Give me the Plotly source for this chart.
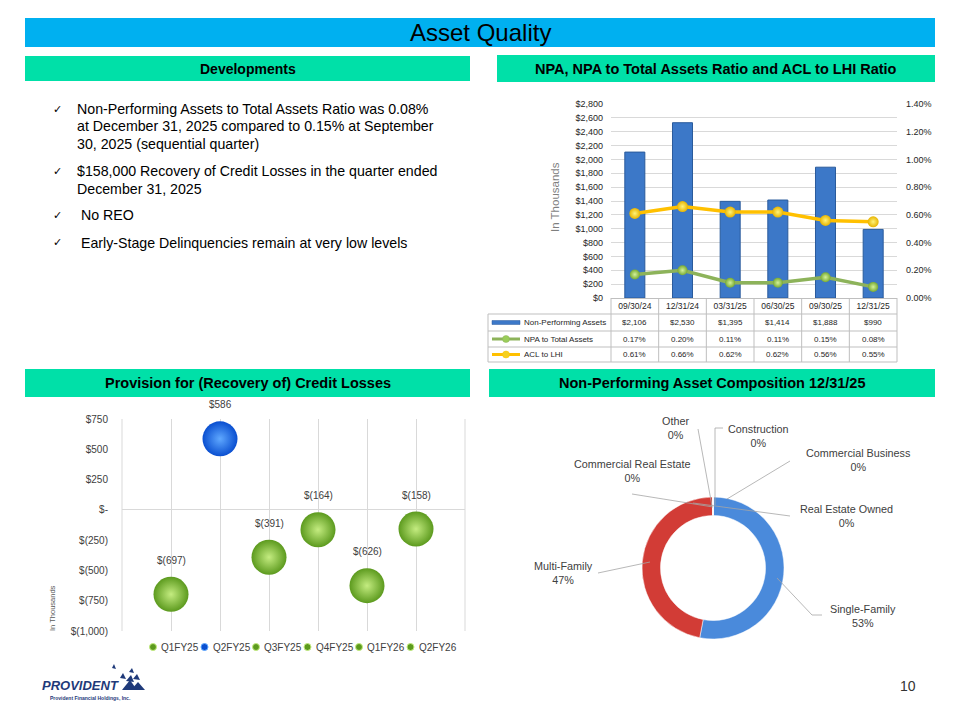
import plotly.graph_objects as go

W, H = 960, 720

# ---------------- data ----------------
dates = ["09/30/24", "12/31/24", "03/31/25", "06/30/25", "09/30/25", "12/31/25"]
npa = [2106, 2530, 1395, 1414, 1888, 990]
npa_ratio = [0.17, 0.20, 0.11, 0.11, 0.15, 0.08]
acl_ratio = [0.61, 0.66, 0.62, 0.62, 0.56, 0.55]
bar_ticks = list(range(0, 2801, 200))
ratio_ticks = [0.0, 0.2, 0.4, 0.6, 0.8, 1.0, 1.2, 1.4]

quarters = ["Q1FY25", "Q2FY25", "Q3FY25", "Q4FY25", "Q1FY26", "Q2FY26"]
provision = [-697, 586, -391, -164, -626, -158]
bubble_ticks = [-1000, -750, -500, -250, 0, 250, 500, 750]

comp_labels = ["Single-Family", "Multi-Family", "Commercial Real Estate", "Other",
               "Construction", "Commercial Business", "Real Estate Owned"]
comp_values = [53, 47, 0, 0, 0, 0, 0]

bullets = [
    ["Non-Performing Assets to Total Assets Ratio was 0.08%",
     "at December 31, 2025 compared to 0.15% at September",
     "30, 2025 (sequential quarter)"],
    ["$158,000 Recovery of Credit Losses in the quarter ended",
     "December 31, 2025"],
    [" No REO"],
    [" Early-Stage Delinquencies remain at very low levels"],
]

# ---------------- helpers ----------------
def px(x):
    return x / W

def py(y):
    return 1 - y / H

def acct(v):
    if v == 0:
        return "$-"
    if v < 0:
        return "$({:,})".format(abs(v))
    return "${:,}".format(v)

FONT = "Liberation Sans, Arial, sans-serif"
MINT = "#00E0A8"
BLUE_BAR = "#3C78C8"
GREEN = "#8DB35A"
GOLD = "#FFC000"
POS_COL, POS_CTR = "#0A4FD0", "#5FA8FF"
NEG_COL, NEG_CTR = "#5C9A1E", "#C4EC80"

fig = go.Figure()

# ---------------- bar + line chart ----------------
fig.add_trace(go.Bar(
    x=dates, y=npa, name="Non-Performing Assets",
    marker=dict(color=BLUE_BAR, line=dict(color="#2A5B9C", width=1)),
    xaxis="x", yaxis="y", showlegend=False, width=0.42))
fig.add_trace(go.Scatter(
    x=dates, y=npa_ratio, name="NPA to Total Assets", mode="lines+markers",
    line=dict(color=GREEN, width=3.5),
    marker=dict(size=10, color="#78AA34", gradient=dict(type="radial", color="#D4F29A")),
    xaxis="x", yaxis="y2", showlegend=False))
fig.add_trace(go.Scatter(
    x=dates, y=acl_ratio, name="ACL to LHI", mode="lines+markers",
    line=dict(color=GOLD, width=3.5),
    marker=dict(size=11, color="#E8B400", gradient=dict(type="radial", color="#FFF37A")),
    xaxis="x", yaxis="y2", showlegend=False))

# ---------------- bubble chart ----------------
for i, (q, v) in enumerate(zip(quarters, provision)):
    pos = v > 0
    col = POS_COL if pos else NEG_COL
    ctr = POS_CTR if pos else NEG_CTR
    fig.add_trace(go.Scatter(
        x=[i + 1], y=[v], mode="markers", name=q,
        marker=dict(size=35, color=col, gradient=dict(type="radial", color=ctr), line=dict(width=0)),
        xaxis="x2", yaxis="y3", showlegend=False))

# ---------------- donut ----------------
fig.add_trace(go.Pie(
    labels=comp_labels, values=comp_values, hole=0.74, sort=False,
    direction="clockwise", rotation=0, textinfo="none",
    marker=dict(colors=["#4A8ADB", "#D23C36", "#9BBB59", "#8064A2", "#4BACC6", "#F79646", "#7F7F7F"],
                line=dict(color="#ffffff", width=0.5)),
    domain=dict(x=[px(641), px(785)], y=[py(639), py(497)]),
    showlegend=False))

shapes = []
ann = []

# ---------------- header bars ----------------
def header(x0, y0, x1, y1, color, text, size, bold=True):
    shapes.append(dict(type="rect", xref="paper", yref="paper", x0=px(x0), x1=px(x1),
                       y0=py(y1), y1=py(y0), fillcolor=color, line=dict(width=0), layer="below"))
    t = "<b>%s</b>" % text if bold else text
    ann.append(dict(xref="paper", yref="paper", x=px((x0 + x1) / 2), y=py((y0 + y1) / 2),
                    text=t, showarrow=False, font=dict(family=FONT, size=size, color="#000000"),
                    xanchor="center", yanchor="middle"))

header(25, 18, 935, 47, "#00B0F0", "Asset Quality", 24, bold=False)
header(25, 56, 470, 81, MINT, "Developments", 14)
header(497, 55, 935, 82, MINT, "NPA, NPA to Total Assets Ratio and ACL to LHI Ratio", 14.5)
header(25, 369, 470, 397, MINT, "Provision for (Recovery of) Credit Losses", 14.5)
header(489, 369, 935, 397, MINT, "Non-Performing Asset Composition 12/31/25", 14.5)

# ---------------- bullets ----------------
y = 109
for b in bullets:
    ann.append(dict(xref="paper", yref="paper", x=px(51), y=py(y), text="✓", showarrow=False,
                    xanchor="left", yanchor="middle",
                    font=dict(family="DejaVu Sans", size=11, color="#000000")))
    for line in b:
        ann.append(dict(xref="paper", yref="paper", x=px(75), y=py(y), text=line, showarrow=False,
                        xanchor="left", yanchor="middle",
                        font=dict(family=FONT, size=14.2, color="#000000")))
        y += 17.5
    y += 9.5

# ---------------- bar chart decorations ----------------
bx0, bx1 = 611, 897
by_top, by_bot = 104, 298
ann.append(dict(xref="paper", yref="paper", x=px(555), y=py(197), text="In Thousands",
                xanchor="center", yanchor="middle",
                textangle=-90, showarrow=False, font=dict(family=FONT, size=11.5, color="#7F7F7F")))

# data table
GRID = "#BFBFBF"
row_lines = [314, 331, 347, 362]
n = len(dates)
bounds = [bx0 + k * (bx1 - bx0) / n for k in range(n + 1)]
for yl in row_lines:
    shapes.append(dict(type="line", xref="paper", yref="paper", x0=px(488), x1=px(bx1),
                       y0=py(yl), y1=py(yl), line=dict(color=GRID, width=1)))
shapes.append(dict(type="line", xref="paper", yref="paper", x0=px(488), x1=px(488),
                   y0=py(row_lines[0]), y1=py(row_lines[-1]), line=dict(color=GRID, width=1)))
for bx in bounds:
    shapes.append(dict(type="line", xref="paper", yref="paper", x0=px(bx), x1=px(bx),
                       y0=py(by_bot), y1=py(row_lines[-1]), line=dict(color=GRID, width=1)))

row_centers = [322.5, 339, 354.5]
row_names = ["Non-Performing Assets", "NPA to Total Assets", "ACL to LHI"]
row_vals = [["${:,}".format(v) for v in npa],
            ["{:.2f}%".format(v) for v in npa_ratio],
            ["{:.2f}%".format(v) for v in acl_ratio]]
for rc, nm, vals in zip(row_centers, row_names, row_vals):
    ann.append(dict(xref="paper", yref="paper", x=px(522), y=py(rc), text=nm, showarrow=False,
                    xanchor="left", yanchor="middle", font=dict(family=FONT, size=8, color="#262626")))
    for d, v in zip(dates, vals):
        ann.append(dict(xref="x", yref="paper", x=d, y=py(rc), text=v, showarrow=False,
                        xanchor="center", yanchor="middle", font=dict(family=FONT, size=8, color="#262626")))

# legend keys in table
shapes.append(dict(type="rect", xref="paper", yref="paper", x0=px(492), x1=px(520),
                   y0=py(324.5), y1=py(320.5), fillcolor=BLUE_BAR, line=dict(color="#2A5B9C", width=0.5)))
for rc, lc, mc in [(339, GREEN, "#9ACD5A"), (354.5, GOLD, "#F5D020")]:
    shapes.append(dict(type="line", xref="paper", yref="paper", x0=px(492), x1=px(520),
                       y0=py(rc), y1=py(rc), line=dict(color=lc, width=3)))
    shapes.append(dict(type="circle", xref="paper", yref="paper", x0=px(502.5), x1=px(509.5),
                       y0=py(rc + 3.5), y1=py(rc - 3.5), fillcolor=mc, line=dict(color=lc, width=0.5)))

# ---------------- bubble chart decorations ----------------
for xe in (0, 1):
    shapes.append(dict(type="line", xref="x2 domain", yref="y3 domain", x0=xe, x1=xe, y0=0, y1=1,
                       line=dict(color="#D9D9D9", width=1), layer="below"))
for i, (q, v) in enumerate(zip(quarters, provision)):
    ann.append(dict(xref="x2", yref="y3", x=i + 1, y=v, yshift=34, text=acct(v), showarrow=False,
                    xanchor="center", font=dict(family=FONT, size=10, color="#404040")))
    # custom legend entry
    lx = 153 + i * 51.5
    col = POS_COL if v > 0 else NEG_COL
    ctr = POS_CTR if v > 0 else NEG_CTR
    shapes.append(dict(type="circle", xref="paper", yref="paper", x0=px(lx - 3.5), x1=px(lx + 3.5),
                       y0=py(647 + 3.5), y1=py(647 - 3.5), fillcolor=col, line=dict(color=ctr, width=1)))
    ann.append(dict(xref="paper", yref="paper", x=px(lx + 6), y=py(647), text=q, showarrow=False,
                    xanchor="left", yanchor="middle", font=dict(family=FONT, size=10, color="#404040")))
ann.append(dict(xref="paper", yref="paper", x=px(52), y=py(608), text="In Thousands",
                xanchor="center", yanchor="middle",
                textangle=-90, showarrow=False, font=dict(family=FONT, size=7.5, color="#595959")))

# ---------------- donut labels ----------------
total = sum(comp_values)
label_pos = {
    "Single-Family": (863, 616),
    "Multi-Family": (563, 573),
    "Commercial Real Estate": (632, 471),
    "Other": (675, 428),
    "Construction": (758, 436),
    "Commercial Business": (858, 460),
    "Real Estate Owned": (846, 516),
}
leaders = {
    "Single-Family": [(822, 615), (812, 615), (777, 578)],
    "Multi-Family": [(598, 573), (650, 562)],
    "Commercial Real Estate": [(632, 494), (713, 507)],
    "Other": [(698, 429), (712, 506)],
    "Construction": [(723, 428), (715, 428), (715, 505)],
    "Commercial Business": [(790, 461), (727, 499)],
    "Real Estate Owned": [(790, 516), (693, 503)],
}
for lab, val in zip(comp_labels, comp_values):
    cx, cy = label_pos[lab]
    pct = round(100 * val / total)
    ann.append(dict(xref="paper", yref="paper", x=px(cx), y=py(cy), xanchor="center", yanchor="middle",
                    text="%s<br>%d%%" % (lab, pct), showarrow=False, align="center",
                    font=dict(family=FONT, size=10.8, color="#404040")))
    pts = leaders[lab]
    for (xa, ya), (xb, yb) in zip(pts[:-1], pts[1:]):
        shapes.append(dict(type="line", xref="paper", yref="paper", x0=px(xa), x1=px(xb),
                           y0=py(ya), y1=py(yb), line=dict(color="#A6A6A6", width=0.8)))

# ---------------- logo & page number ----------------
NAVY = "#1F3A7A"
ann.append(dict(xref="paper", yref="paper", x=px(40), y=py(685), text="<b><i>PROVIDENT</i></b>",
                showarrow=False, xanchor="left", yanchor="middle",
                font=dict(family=FONT, size=13, color=NAVY)))
ann.append(dict(xref="paper", yref="paper", x=px(48), y=py(698), text="<b>Provident Financial Holdings, Inc.</b>",
                showarrow=False, xanchor="left", yanchor="middle",
                font=dict(family=FONT, size=5, color=NAVY)))
tri_paths = [
    [(122, 690), (130, 680), (137, 690)],
    [(131, 690), (138, 682), (145, 690)],
    [(126, 681), (131, 675), (134, 682)],
    [(133, 679), (137, 674), (140, 680)],
    [(120, 678), (123, 673), (126, 679)],
    [(129, 672), (132, 668), (134, 673)],
    [(112, 668), (114, 664), (116, 669)],
]
for tri in tri_paths:
    path = "M %.5f %.5f L %.5f %.5f L %.5f %.5f Z" % (
        px(tri[0][0]), py(tri[0][1]), px(tri[1][0]), py(tri[1][1]), px(tri[2][0]), py(tri[2][1]))
    shapes.append(dict(type="path", xref="paper", yref="paper", path=path,
                       fillcolor=NAVY, line=dict(width=0)))
ann.append(dict(xref="paper", yref="paper", x=px(908), y=py(686), text="10", showarrow=False,
                xanchor="center", yanchor="middle",
                font=dict(family=FONT, size=14, color="#333333")))

tickfont_small = dict(family=FONT, size=9, color="#262626")

fig.update_layout(
    width=W, height=H, autosize=False,
    margin=dict(l=0, r=0, t=0, b=0, pad=0),
    paper_bgcolor="#ffffff", plot_bgcolor="rgba(0,0,0,0)",
    bargap=0.58, showlegend=False,
    xaxis=dict(domain=[px(bx0), px(bx1)], anchor="y", type="category", categoryorder="array",
               categoryarray=dates, showgrid=False, showline=True, linecolor=GRID, ticks="",
               tickfont=dict(family=FONT, size=8.5, color="#262626"), automargin=False),
    yaxis=dict(domain=[py(by_bot), py(by_top)], anchor="x", range=[0, 2800], tickvals=bar_ticks,
               ticktext=["${:,}".format(v) for v in bar_ticks], showgrid=True, gridcolor="#D9D9D9",
               zeroline=False, ticks="", ticklabelstandoff=7, tickfont=tickfont_small, automargin=False),
    yaxis2=dict(overlaying="y", side="right", anchor="x", range=[0, 1.4], tickvals=ratio_ticks,
                ticktext=["{:.2f}%".format(v) for v in ratio_ticks], showgrid=False, zeroline=False,
                ticks="", ticklabelstandoff=8, tickfont=tickfont_small, automargin=False),
    xaxis2=dict(domain=[px(122), px(465)], anchor="y3", range=[0, 7], tickvals=list(range(0, 8)),
                showticklabels=False, showgrid=True, gridcolor="#D9D9D9", zeroline=False, ticks="",
                automargin=False),
    yaxis3=dict(domain=[py(631), py(419)], anchor="x2", range=[-1000, 750], tickvals=bubble_ticks,
                ticktext=[acct(v) for v in bubble_ticks], showgrid=False, zeroline=True,
                zerolinecolor="#D9D9D9", zerolinewidth=1, ticks="", ticklabelstandoff=13,
                tickfont=dict(family=FONT, size=10, color="#404040"), automargin=False),
    shapes=shapes, annotations=ann,
)

fig.write_html("out.html", config={"displayModeBar": False},
               post_script="document.body.style.margin='0';document.body.style.overflow='hidden';")
